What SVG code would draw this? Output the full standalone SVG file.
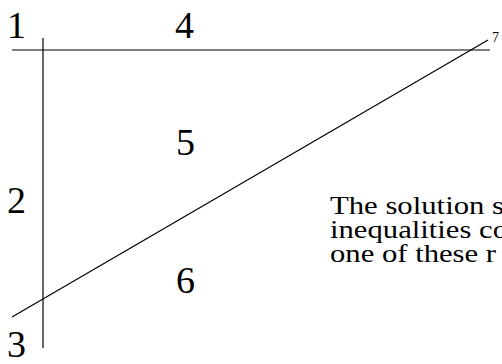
<svg xmlns="http://www.w3.org/2000/svg" width="502" height="364" viewBox="0 0 502 364">
<style>
.l{stroke:#000;stroke-width:1.2;fill:none}
.d{font-family:"Liberation Serif","DejaVu Serif",serif;font-size:38px;fill:#000}
.t{font-family:"Liberation Serif","DejaVu Serif",serif;font-size:25px;fill:#000}
</style>
<rect width="502" height="364" fill="#fff"/>
<g id="connectors">
<line class="l" x1="12" y1="50" x2="490" y2="50"/>
<line class="l" x1="43" y1="38" x2="43" y2="348"/>
<line class="l" x1="12" y1="317" x2="488" y2="40"/>
</g>
<g id="n1"><text class="d" x="7" y="38">1</text></g>
<g id="n4"><text class="d" x="175" y="38">4</text></g>
<g id="n5"><text class="d" x="176" y="155">5</text></g>
<g id="n2"><text class="d" x="7" y="213">2</text></g>
<g id="n6"><text class="d" x="176" y="293">6</text></g>
<g id="n3"><text class="d" x="7" y="357">3</text></g>
<g id="n7"><text class="d" x="492" y="42" style="font-size:14px">7</text></g>
<g id="note">
<text class="t" x="330" y="214" textLength="174" lengthAdjust="spacingAndGlyphs">The solution s</text>
<text class="t" x="330" y="238" textLength="178" lengthAdjust="spacingAndGlyphs">inequalities co</text>
<text class="t" x="330" y="262" textLength="166" lengthAdjust="spacingAndGlyphs">one of these r</text>
</g>
</svg>
